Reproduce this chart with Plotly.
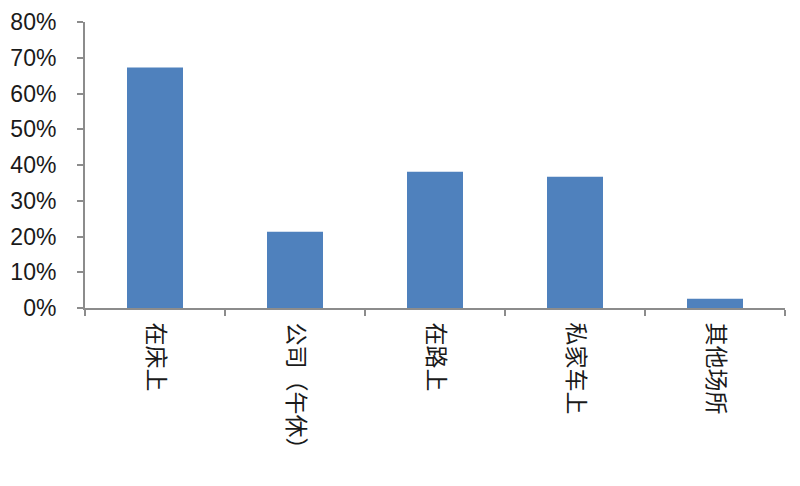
import plotly.graph_objects as go

categories = ["在床上", "公司（午休）", "在路上", "私家车上", "其他场所"]
shares = [0.673, 0.213, 0.381, 0.367, 0.026]
y_ticks = [0, 0.1, 0.2, 0.3, 0.4, 0.5, 0.6, 0.7, 0.8]
y_labels = ["0%", "10%", "20%", "30%", "40%", "50%", "60%", "70%", "80%"]

axis_grey = "#8c8c8c"

fig = go.Figure(go.Bar(x=categories,
                       y=shares,
                       width=0.4,
                       marker_color="#4f81bd",
                       marker_line_width=0))

# page body has an 8px margin, so the plot box is shifted back by that much
fig.update_layout(template=None,
                  width=800, height=486,
                  margin=dict(l=77, r=23, t=14, b=186),
                  paper_bgcolor="white",
                  plot_bgcolor="white",
                  showlegend=False,
                  font=dict(family="Liberation Sans, Noto Sans CJK SC", color="#1a1a1a"))

fig.update_xaxes(type="category",
                 showline=True, linecolor=axis_grey, linewidth=2,
                 ticks="outside", tickson="boundaries", ticklen=6,
                 tickcolor=axis_grey, tickwidth=2,
                 tickangle=90,
                 tickfont=dict(size=23, family="Noto Sans CJK SC"),
                 ticklabelstandoff=8,
                 showgrid=False, zeroline=False)

fig.update_yaxes(range=[0, 0.8],
                 tickvals=y_ticks, ticktext=y_labels,
                 showline=True, linecolor=axis_grey, linewidth=2,
                 ticks="outside", ticklen=6,
                 tickcolor=axis_grey, tickwidth=2,
                 tickfont=dict(size=23),
                 ticklabelstandoff=16,
                 showgrid=False, zeroline=False)

fig.write_html("out.html")
